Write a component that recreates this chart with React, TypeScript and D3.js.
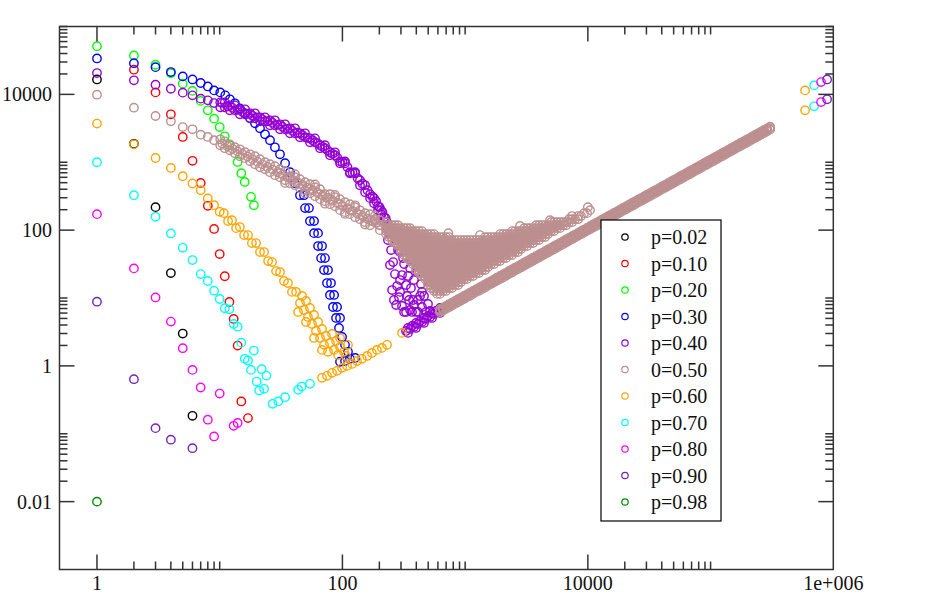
import { useEffect, useRef } from 'react';
import * as d3 from 'd3';

type Pt = [number, number];

// Series values (x, y) — log/log axes
const P02: Pt[] = [[1, 16600], [2, 1870], [3, 218], [4, 23.3], [5, 2.99], [6, 0.184]];

const P10: Pt[] = [
  [2, 23100], [3, 10700], [4, 5080], [5, 2360], [6, 1050], [7, 496], [8, 228], [9, 104],
  [10, 44.4], [11, 20.9], [12, 8.73], [13, 4.91], [14, 1.99], [15, 0.299], [17, 0.17],
];

const P20: Pt[] = [
  [1, 51300], [2, 37500], [3, 27300], [4, 20400], [5, 14400], [6, 11250], [7, 8020], [8, 5820],
  [9, 4390], [10, 3300], [11, 2410], [12, 1780], [14, 1010], [15, 689], [16, 513], [18, 309], [19, 233],
];

const P30: Pt[] = [
  [1, 33800], [2, 28800], [3, 25200], [4, 21300], [5, 18400], [6, 16600], [7, 14700], [8, 13100], [9, 11450],
  [10.1, 10700], [11.1, 9670], [12.1, 8450], [13.3, 7380], [14.6, 6220], [16.1, 5260], [17.7, 4440],
  [19.4, 3750], [21.3, 3160], [23.4, 2580], [25.7, 2110], [28.2, 1660], [31, 1310], [34.1, 967],
  [37.4, 713], [41.1, 491], [45.1, 327], [49.6, 211], [54.4, 136], [58.7, 90.3], [63.3, 58.2],
  [67, 38.7], [70.8, 25.8], [74.9, 16.6], [79.2, 11.1], [83.8, 7.37], [88.7, 5.08], [93.8, 3.62],
  [99.3, 2.67], [105, 2.04], [111, 1.61],
  [48.6, 327], [53.4, 211], [58.7, 136], [63.3, 90.3], [68.2, 58.2], [72.1, 38.7], [76.3, 25.8],
  [80.7, 16.6], [85.5, 11.1], [90.4, 7.37], [95.6, 5.08],
  [95.6, 1.15], [105, 1.18], [115, 1.27], [127, 1.31],
];

const P40: Pt[] = [
  [1, 20600], [2, 16100], [3, 13900], [4, 12100], [5, 10600], [6, 9670], [7, 8650], [8, 8160], [9, 7450],
  // band, three rows
  [10.1, 6440], [11, 7630], [12.1, 5820], [13.3, 6890], [14.6, 5080], [16.1, 6020], [17.7, 4440],
  [19.4, 5260], [21.3, 4010], [23.4, 4590], [25.7, 3500], [28.2, 4150], [31, 3060], [34.1, 3620],
  [37.4, 2670], [41.1, 3160], [45.1, 2330], [49.6, 2670], [54.4, 1970], [59.8, 2250], [65.7, 1610],
  [72.1, 1780], [79.2, 1270], [87, 1400], [95.6, 967], [105, 1030], [115, 689], [127, 713],
  [139, 459], [153, 459], [168, 296], [181, 296], [195, 197], [206, 197], [218, 136], [231, 131], [240, 93.5],
  [10.1, 7630], [11, 6440], [12.1, 6890], [13.3, 5820], [14.6, 6020], [16.1, 5080], [17.7, 5260],
  [19.4, 4440], [21.3, 4590], [23.4, 4010], [25.7, 4150], [28.2, 3500], [31, 3620], [34.1, 3060],
  [37.4, 3160], [41.1, 2670], [45.1, 2670], [49.6, 2330], [54.4, 2250], [59.8, 1970], [65.7, 1780],
  [72.1, 1610], [79.2, 1400], [87, 1270], [95.6, 1030], [105, 967], [115, 713], [127, 689],
  [139, 543], [153, 362], [168, 338], [181, 249], [195, 225], [206, 172], [218, 155], [231, 107],
  [10.5, 7500], [11.6, 6660], [12.7, 6330], [14, 5920], [15.3, 5530], [16.9, 5170], [18.5, 4830],
  [20.3, 4590], [22.3, 4290], [24.5, 4010], [26.9, 3810], [29.6, 3560], [32.5, 3330], [35.7, 3110],
  [39.2, 2900], [43.1, 2720], [47.3, 2500], [52, 2290], [57.1, 2110], [62.7, 1900], [68.9, 1690],
  [75.6, 1500], [83.1, 1330], [91.2, 1160], [100, 1000], [110, 844], [121, 701], [133, 582],
  [146, 483], [160, 387], [176, 311], [188, 267], [201, 218], [212, 184], [225, 150],
  // drop
  [235, 71.3], [249, 50.8], [259, 33.8], [268, 22.5], [279, 15], [289, 10.3], [306, 7.63], [318, 6.23],
  [274, 71.3], [295, 47.5], [318, 31.6], [343, 21.1], [362, 14], [376, 9.35], [356, 6.66], [398, 6.23],
  [330, 60.2], [369, 38.7], [406, 24.1], [437, 16.1], [462, 10.7], [445, 7.37], [498, 8.16], [518, 6.44],
  [295, 18.4], [336, 10.7], [413, 9.35],
  [244, 30.6], [254, 13.1], [263, 9.35], [284, 50.8], [306, 21.8], [330, 15.5], [349, 9.35], [383, 7.89],
  [429, 10.7], [480, 6.23], [312, 38.7], [356, 27.6], [383, 18.4], [421, 30.6], [445, 12.3], [274, 7.89],
  [295, 12.3], [330, 6.23], [369, 6.23], [413, 6.23],
  // lower line
  [330, 3.27], [356, 3.5], [383, 3.75], [413, 4.15], [445, 4.44], [480, 4.91], [518, 5.26],
  [558, 5.82], [601, 6.23], [648, 6.89],
  [342, 3.62], [369, 3.88], [398, 4.29], [429, 4.59], [462, 5.08], [498, 5.44], [537, 6.02], [579, 6.44],
  [624, 7.13], [342, 3.06], [398, 3.62], [462, 4.29], [537, 5.08], [624, 6.02],
];

const P50_HEAD: Pt[] = [
  [1, 9900], [2, 6370], [3, 4800], [4, 4010], [5, 3300], [6, 3060], [7, 2550], [8, 2360], [9, 2110],
  [10.1, 1780], [11, 1610], [12.1, 1840], [13.3, 1360], [14.6, 1550], [16.1, 1150], [17.7, 1310],
  [19.4, 935], [21.3, 1110], [23.4, 789], [25.7, 935], [28.2, 644], [31, 789], [34.1, 543],
  [37.4, 622], [41.1, 459], [45.1, 562], [49.6, 387], [54.4, 475], [59.8, 316], [65.7, 401],
  [72.1, 267], [79.2, 338], [87, 225], [95.6, 286], [105, 184], [115, 241], [127, 155],
  [139, 197], [153, 131], [168, 172], [184, 136], [202, 140],
  [10.1, 2180], [11, 2036], [12.1, 1502], [13.3, 1662], [14.6, 1225], [16.1, 1403], [17.7, 1034],
  [19.4, 1225], [21.3, 844], [23.4, 1000], [25.7, 713], [28.2, 873], [31, 601], [34.1, 738],
  [37.4, 491], [41.1, 601], [45.1, 415], [49.6, 508], [54.4, 350], [59.8, 429], [65.7, 286],
  [72.1, 338], [79.2, 241], [87, 306], [95.6, 197], [105, 258], [115, 172], [127, 218],
  [139, 145], [153, 178], [168, 118], [184, 145], [202, 100],
  [31, 689], [37.4, 582], [45.1, 483], [54.4, 405], [65.7, 338], [79.2, 286], [95.6, 241],
  [115, 200], [139, 168], [168, 140], [202, 118],
  [34.1, 496], [41.1, 668], [49.6, 349], [59.8, 470], [72.1, 245], [87, 330], [105, 173],
  [127, 232], [153, 121], [184, 163],
  [10.5, 1884], [11.6, 1725], [12.7, 1580], [14, 1446], [15.3, 1324], [16.9, 1213], [18.5, 1111],
  [20.3, 1017], [22.3, 931], [24.5, 853], [26.9, 784], [29.6, 718], [32.5, 657], [35.7, 601],
  [39.2, 551], [43.1, 505], [47.3, 462], [52, 423], [57.1, 387], [62.7, 355], [68.9, 325],
  [75.6, 298], [83.1, 272], [91.2, 249], [100, 228], [110, 209], [121, 192], [133, 175],
  [146, 161], [160, 147], [176, 135], [188, 127], [201, 119],
];

// the wide cloud of the p=0.50 set, one column of points per x
const P50_CLOUD_X = [
  227, 240, 254, 268, 284, 300, 318, 336, 356, 376, 398, 421, 445, 471, 498, 527, 558, 590, 624,
  661, 699, 739, 782, 828, 875, 926, 980, 1036, 1096, 1160, 1227, 1298, 1373, 1453, 1537, 1626,
  1720, 1820, 1925, 2037, 2154, 2280, 2411, 2551, 2698, 2855, 3020, 3196, 3380, 3576, 3783, 4003,
  4234, 4480, 4738, 5013, 5303, 5611, 5935, 6280, 6642, 7028, 7433, 7865, 8319, 8803, 9311, 9851, 10420,
];
const P50_CLOUD_Y: number[][] = [
  [131, 118, 107, 96.7, 87.4],
  [118, 107, 96.7, 87.4, 78.9],
  [118, 107, 96.7, 87.4, 78.9, 71.3],
  [118, 107, 96.7, 87.4, 78.9, 71.3, 64.4],
  [118, 107, 96.7, 87.4, 78.9, 71.3, 64.4, 58.2],
  [107, 96.7, 87.4, 78.9, 71.3, 64.4, 58.2, 52.6, 47.5],
  [107, 96.7, 87.4, 78.9, 71.3, 64.4, 58.2, 52.6, 47.5, 42.9],
  [107, 96.7, 87.4, 78.9, 71.3, 64.4, 58.2, 52.6, 47.5, 42.9, 38.7],
  [107, 96.7, 87.4, 78.9, 71.3, 64.4, 58.2, 52.6, 47.5, 42.9, 38.7, 35],
  [96.7, 87.4, 78.9, 71.3, 64.4, 58.2, 52.6, 47.5, 42.9, 38.7, 35, 31.6],
  [96.7, 87.4, 78.9, 71.3, 64.4, 58.2, 52.6, 47.5, 42.9, 38.7, 35, 31.6, 28.6, 25.8],
  [96.7, 87.4, 78.9, 71.3, 64.4, 58.2, 52.6, 47.5, 42.9, 38.7, 35, 31.6, 28.6, 25.8, 23.3],
  [96.7, 87.4, 78.9, 71.3, 64.4, 58.2, 52.6, 47.5, 42.9, 38.7, 35, 31.6, 28.6, 25.8, 23.3, 21.1],
  [87.4, 78.9, 71.3, 64.4, 58.2, 52.6, 47.5, 42.9, 38.7, 35, 31.6, 28.6, 25.8, 23.3, 21.1, 19],
  [87.4, 78.9, 71.3, 64.4, 58.2, 52.6, 47.5, 42.9, 38.7, 35, 31.6, 28.6, 25.8, 23.3, 21.1, 19, 17.2, 15.5],
  [87.4, 78.9, 71.3, 64.4, 58.2, 52.6, 47.5, 42.9, 38.7, 35, 31.6, 28.6, 25.8, 23.3, 21.1, 19, 17.2, 15.5, 14],
  [87.4, 78.9, 71.3, 64.4, 58.2, 52.6, 47.5, 42.9, 38.7, 35, 31.6, 28.6, 25.8, 23.3, 21.1, 19, 17.2, 15.5, 14, 12.7],
  [78.9, 71.3, 64.4, 58.2, 52.6, 47.5, 42.9, 38.7, 35, 31.6, 28.6, 25.8, 23.3, 21.1, 19, 17.2, 15.5, 14, 12.7, 11.5],
  [78.9, 71.3, 64.4, 58.2, 52.6, 47.5, 42.9, 38.7, 35, 31.6, 28.6, 25.8, 23.3, 21.1, 19, 17.2, 15.5, 14, 12.7, 11.5],
  [78.9, 71.3, 64.4, 58.2, 52.6, 47.5, 42.9, 38.7, 35, 31.6, 28.6, 25.8, 23.3, 21.1, 19, 17.2, 15.5, 14, 12.7],
  [78.9, 71.3, 64.4, 58.2, 52.6, 47.5, 42.9, 38.7, 35, 31.6, 28.6, 25.8, 23.3, 21.1, 19, 17.2, 15.5, 14, 12.7],
  [78.9, 71.3, 64.4, 58.2, 52.6, 47.5, 42.9, 38.7, 35, 31.6, 28.6, 25.8, 23.3, 21.1, 19, 17.2, 15.5, 14],
  [71.3, 64.4, 58.2, 52.6, 47.5, 42.9, 38.7, 35, 31.6, 28.6, 25.8, 23.3, 21.1, 19, 17.2, 15.5, 14],
  [71.3, 64.4, 58.2, 52.6, 47.5, 42.9, 38.7, 35, 31.6, 28.6, 25.8, 23.3, 21.1, 19, 17.2, 15.5],
  [71.3, 64.4, 58.2, 52.6, 47.5, 42.9, 38.7, 35, 31.6, 28.6, 25.8, 23.3, 21.1, 19, 17.2, 15.5],
  [71.3, 64.4, 58.2, 52.6, 47.5, 42.9, 38.7, 35, 31.6, 28.6, 25.8, 23.3, 21.1, 19, 17.2],
  [71.3, 64.4, 58.2, 52.6, 47.5, 42.9, 38.7, 35, 31.6, 28.6, 25.8, 23.3, 21.1, 19],
  [71.3, 64.4, 58.2, 52.6, 47.5, 42.9, 38.7, 35, 31.6, 28.6, 25.8, 23.3, 21.1, 19],
  [71.3, 64.4, 58.2, 52.6, 47.5, 42.9, 38.7, 35, 31.6, 28.6, 25.8, 23.3, 21.1],
  [71.3, 64.4, 58.2, 52.6, 47.5, 42.9, 38.7, 35, 31.6, 28.6, 25.8, 23.3, 21.1],
  [71.3, 64.4, 58.2, 52.6, 47.5, 42.9, 38.7, 35, 31.6, 28.6, 25.8, 23.3],
  [71.3, 64.4, 58.2, 52.6, 47.5, 42.9, 38.7, 35, 31.6, 28.6, 25.8, 23.3],
  [71.3, 64.4, 58.2, 52.6, 47.5, 42.9, 38.7, 35, 31.6, 28.6, 25.8],
  [78.9, 71.3, 64.4, 58.2, 52.6, 47.5, 42.9, 38.7, 35, 31.6, 28.6, 25.8],
  [78.9, 71.3, 64.4, 58.2, 52.6, 47.5, 42.9, 38.7, 35, 31.6, 28.6],
  [78.9, 71.3, 64.4, 58.2, 52.6, 47.5, 42.9, 38.7, 35, 31.6],
  [78.9, 71.3, 64.4, 58.2, 52.6, 47.5, 42.9, 38.7, 35, 31.6],
  [78.9, 71.3, 64.4, 58.2, 52.6, 47.5, 42.9, 38.7, 35],
  [87.4, 78.9, 71.3, 64.4, 58.2, 52.6, 47.5, 42.9, 38.7, 35],
  [87.4, 78.9, 71.3, 64.4, 58.2, 52.6, 47.5, 42.9, 38.7],
  [87.4, 78.9, 71.3, 64.4, 58.2, 52.6, 47.5, 42.9, 38.7],
  [87.4, 78.9, 71.3, 64.4, 58.2, 52.6, 47.5, 42.9],
  [96.7, 87.4, 78.9, 71.3, 64.4, 58.2, 52.6, 47.5, 42.9],
  [96.7, 87.4, 78.9, 71.3, 64.4, 58.2, 52.6, 47.5],
  [96.7, 87.4, 78.9, 71.3, 64.4, 58.2, 52.6, 47.5],
  [96.7, 87.4, 78.9, 71.3, 64.4, 58.2, 52.6],
  [107, 96.7, 87.4, 78.9, 71.3, 64.4, 58.2],
  [107, 96.7, 87.4, 78.9, 71.3, 64.4, 58.2],
  [107, 96.7, 87.4, 78.9, 71.3, 64.4],
  [107, 96.7, 87.4, 78.9, 71.3, 64.4],
  [118, 107, 96.7, 87.4, 78.9, 71.3],
  [118, 107, 96.7, 87.4, 78.9, 71.3],
  [118, 107, 96.7, 87.4, 78.9],
  [118, 107, 96.7, 87.4, 78.9],
  [118, 107, 96.7, 87.4],
  [131, 118, 107, 96.7],
  [131, 118, 107, 96.7],
  [131, 118, 107],
  [131, 118, 107],
  [131, 118],
  [131, 118],
  [145, 131],
  [145, 131],
  [145],
  [161, 145],
  [161],
  [178],
  [178],
  [197],
];
const P50_RINGS: Pt[] = [[730, 90.3], [1320, 84.4], [2800, 115], [4920, 140], [7430, 161], [10000, 218]];

// the straight band of the p=0.50 set: two sets of x, three rows each
const P50_LINE_XA = [
  624, 699, 782, 875, 980, 1096, 1227, 1373, 1537, 1720, 1925, 2154, 2411, 2698, 3020, 3380, 3783,
  4234, 4738, 5303, 5935, 6642, 7433, 8319, 9311, 10420, 11660, 13050, 14610, 16350, 18300, 20480,
  22920, 25650, 28710, 32130, 35960, 40240, 45040, 50410, 56420, 63140, 70670, 79090, 88510, 99060,
  110900, 124100, 138900, 155400, 174000, 194700, 217900, 243900, 272900, 305500,
];
const P50_LINE_A_HI = [
  6.83, 7.64, 8.56, 9.58, 10.7, 12, 13.4, 15, 16.8, 18.8, 21.1, 23.5, 26.4, 29.5, 33.1, 37, 41.4,
  46.3, 51.9, 58, 64.9, 72.7, 81.3, 91, 102, 114, 128, 143, 160, 179, 200, 224, 251, 281, 314, 351,
  393, 440, 493, 551, 617, 691, 773, 865, 968, 1084, 1213, 1358, 1519, 1700, 1904, 2129, 2384, 2668,
  2985, 3341,
];
const P50_LINE_A_MID = [
  6.5, 7.28, 8.15, 9.12, 10.2, 11.4, 12.8, 14.3, 16, 17.9, 20.1, 22.4, 25.1, 28.1, 31.5, 35.2, 39.4,
  44.1, 49.4, 55.2, 61.8, 69.2, 77.4, 86.7, 97, 108.5, 121.5, 135.9, 152.2, 170.3, 190.6, 213.3,
  238.8, 267.2, 299.1, 334.7, 374.6, 419.2, 469.2, 525.1, 587.7, 657.7, 736.1, 823.9, 922, 1032,
  1155, 1293, 1447, 1619, 1813, 2028, 2270, 2541, 2843, 3182,
];
const P50_LINE_A_LO = [
  6.18, 6.92, 7.74, 8.66, 9.69, 10.8, 12.2, 13.6, 15.2, 17, 19.1, 21.3, 23.8, 26.7, 29.9, 33.4,
  37.4, 41.9, 46.9, 52.4, 58.7, 65.7, 73.5, 82.4, 92.2, 103, 115, 129, 145, 162, 181, 203, 227, 254,
  284, 318, 356, 398, 446, 499, 558, 625, 699, 783, 876, 980, 1097, 1228, 1375, 1538, 1722, 1927,
  2157, 2414, 2701, 3023,
];
const P50_LINE_XB = [
  661, 739, 828, 926, 1036, 1160, 1298, 1453, 1626, 1820, 2037, 2280, 2551, 2855, 3196, 3576, 4003,
  4480, 5013, 5611, 6280, 7028, 7865, 8803, 9851, 11030, 12340, 13810, 15460, 17300, 19360, 21670,
  24250, 27140, 30370, 33990, 38040, 42570, 47650, 53330, 59690, 66800, 74760, 83670, 93650, 104800,
  117300, 131300, 146900, 164400, 184100, 206000, 230600, 258000, 288800,
];
const P50_LINE_B_HI = [
  7.22, 8.09, 9.05, 10.1, 11.3, 12.7, 14.2, 15.9, 17.7, 20, 22.3, 25, 27.9, 31.2, 35, 39.2, 43.8,
  49, 54.8, 61.3, 68.7, 76.9, 86, 96.3, 108, 121, 135, 151, 169, 189, 212, 237, 266, 297, 332, 372,
  416, 465, 521, 584, 653, 731, 818, 916, 1025, 1147, 1283, 1436, 1607, 1799, 2014, 2253, 2522,
  2822, 3158,
];
const P50_LINE_B_MID = [
  6.88, 7.7, 8.62, 9.65, 10.8, 12.1, 13.5, 15.1, 16.9, 19, 21.2, 23.8, 26.6, 29.7, 33.3, 37.3, 41.7,
  46.7, 52.2, 58.4, 65.4, 73.2, 81.9, 91.7, 103, 115, 129, 144, 161, 180, 202, 226, 253, 283, 316,
  354, 396, 443, 496, 556, 622, 696, 779, 872, 976, 1092, 1222, 1368, 1530, 1713, 1918, 2146, 2402,
  2688, 3008,
];
const P50_LINE_B_LO = [
  6.54, 7.32, 8.19, 9.17, 10.3, 11.5, 12.8, 14.3, 16.1, 18.1, 20.1, 22.6, 25.3, 28.2, 31.6, 35.4,
  39.6, 44.4, 49.6, 55.5, 62.1, 69.5, 77.8, 87.1, 97.9, 109, 123, 137, 153, 171, 192, 215, 240, 269,
  300, 336, 376, 421, 471, 528, 591, 661, 740, 828, 927, 1037, 1161, 1300, 1454, 1627, 1822, 2039,
  2282, 2554, 2858,
];

const P60: Pt[] = [
  [1, 3710], [2, 1840], [3, 1155], [4, 824], [5, 622], [6, 486], [7, 387], [8, 293], [9, 233], [10, 186],
  [10.8, 178], [11.7, 136], [12.6, 140], [13.6, 107], [14.6, 111], [15.8, 84.4], [17, 84.4], [18.3, 64.4],
  [19.8, 64.4], [21.3, 47.5], [23, 47.5], [24.8, 35], [26.7, 33.8], [28.8, 24.9], [31, 24.1],
  [33.4, 17.8], [36, 16.6], [38.8, 12.3],
  [41.9, 12.3], [46.9, 10.7], [45.1, 8.45], [50.5, 9.03], [48.6, 6.66], [54.4, 7.13], [52.4, 5.26],
  [58.7, 5.62], [56.5, 4.15], [63.3, 4.44], [60.9, 3.27], [68.2, 3.5], [65.7, 2.58], [73.5, 2.76],
  [70.8, 2.04], [79.2, 2.18], [76.3, 1.61], [85.4, 1.72], [88.7, 2.33], [95.6, 1.9], [103, 1.61],
  [111, 2.04], [92.1, 1.45], [107, 1.4], [82.3, 2.96], [95.6, 2.58], [43.5, 6.23], [50.5, 4.44],
  [58.7, 2.58], [68.2, 1.72],
  [68.2, 0.666], [74.9, 0.713], [82.3, 0.789], [90.4, 0.844], [99.3, 0.935], [109, 1], [120, 1.07],
  [131.5, 1.18], [144, 1.27], [159, 1.4], [174, 1.55], [191, 1.72], [210, 1.84], [231, 2.04], [306, 3.06],
  [589000, 11450], [589000, 5820],
];

const P70: Pt[] = [
  [1, 1000], [2, 327], [3, 157], [4, 89.4], [5, 54.9], [6, 36.2], [7, 22.5], [8, 17.8], [9, 12.8],
  [10, 9.67], [11, 7.06], [12, 6.82], [13, 4.15], [14, 3.78], [15, 2.2], [16, 1.27], [17, 1.2],
  [18, 0.873], [19, 1.68], [20, 0.588], [21, 0.433], [22, 0.894], [23, 0.459], [24, 0.72],
  [27, 0.276], [30, 0.299], [34.1, 0.346], [43.6, 0.444], [46.5, 0.496], [54.4, 0.544],
  [698000, 13560], [698000, 6660],
];

const P80: Pt[] = [
  [1, 172], [2, 27.3], [3, 10.2], [4, 4.49], [5, 1.82], [6, 0.873], [7, 0.48], [10, 0.391],
  [8, 0.161], [9, 0.0913], [13, 0.131], [14, 0.144],
  [795000, 15170], [795000, 7710],
];

const P90: Pt[] = [
  [1, 8.83], [2, 0.637], [3, 0.121], [4, 0.0817], [6, 0.0612],
  [890000, 16600], [890000, 8450],
];

const P98: Pt[] = [[1, 0.01]];

const columns = (xs: number[], ys: number[][]): Pt[] =>
  xs.flatMap((x, i) => ys[i].map((y) => [x, y] as Pt));
const zip = (xs: number[], ys: number[]): Pt[] => xs.map((x, i) => [x, ys[i]] as Pt);

const P50: Pt[] = [
  ...P50_HEAD,
  ...columns(P50_CLOUD_X, P50_CLOUD_Y),
  ...P50_RINGS,
  ...zip(P50_LINE_XA, P50_LINE_A_HI),
  ...zip(P50_LINE_XA, P50_LINE_A_MID),
  ...zip(P50_LINE_XA, P50_LINE_A_LO),
  ...zip(P50_LINE_XB, P50_LINE_B_HI),
  ...zip(P50_LINE_XB, P50_LINE_B_MID),
  ...zip(P50_LINE_XB, P50_LINE_B_LO),
];

const LABELS = ['p=0.02', 'p=0.10', 'p=0.20', 'p=0.30', 'p=0.40', '0=0.50', 'p=0.60', 'p=0.70', 'p=0.80', 'p=0.90', 'p=0.98'];
const COLORS = ['#000000', '#ff0000', '#00ff00', '#0000ff', '#9400d3', '#bc8f8f', '#ffa500', '#00ffff', '#ff00ff', '#7221bc', '#008b00'];
const SETS = [P02, P10, P20, P30, P40, P50, P60, P70, P80, P90, P98];

const X_MAJOR = [1, 100, 10000, 1e6];
const X_LABELS = ['1', '100', '10000', '1e+006'];
const Y_MAJOR = [0.01, 1, 100, 10000];
const Y_LABELS = ['0.01', '1', '100', '10000'];

const W = 942;
const H = 595;
const FONT = '"Liberation Serif", "Times New Roman", serif';

export default function App() {
  const svgRef = useRef<SVGSVGElement>(null);

  useEffect(() => {
    if (!svgRef.current) return;
    const svg = d3.select(svgRef.current);
    svg.selectAll('*').remove();

    const left = 59.5, right = 833.3, top = 26.5, bottom = 569.5;

    const x = d3.scaleLog().domain([0.495, 1e6]).range([left, right]);
    const y = d3.scaleLog().domain([1e-3, 1e5]).range([bottom, top]);

    // minor ticks: 2..10 times each major
    const minors = (majors: number[]) =>
      majors.flatMap((m) => d3.range(2, 11).map((k) => k * m));
    const xMinor = minors(X_MAJOR.slice(0, -1));
    const yMinor = minors(Y_MAJOR);

    // data
    SETS.forEach((pts, i) => {
      svg.append('g')
        .selectAll('circle')
        .data(pts)
        .join('circle')
        .attr('cx', (d) => x(d[0]))
        .attr('cy', (d) => y(d[1]))
        .attr('r', 4.2)
        .attr('fill', 'none')
        .attr('stroke', COLORS[i])
        .attr('stroke-width', 1.4);
    });

    // frame
    const axis = svg.append('g').attr('stroke', '#333').attr('stroke-width', 1.5);
    axis.append('rect')
      .attr('x', left).attr('y', top)
      .attr('width', right - left).attr('height', bottom - top)
      .attr('fill', 'none');

    const tickX = (vals: number[], len: number) => {
      vals.forEach((v) => {
        const px = x(v);
        axis.append('line').attr('x1', px).attr('x2', px).attr('y1', bottom).attr('y2', bottom - len);
        axis.append('line').attr('x1', px).attr('x2', px).attr('y1', top).attr('y2', top + len);
      });
    };
    const tickY = (vals: number[], len: number) => {
      vals.forEach((v) => {
        const py = y(v);
        axis.append('line').attr('y1', py).attr('y2', py).attr('x1', left).attr('x2', left + len);
        axis.append('line').attr('y1', py).attr('y2', py).attr('x1', right).attr('x2', right - len);
      });
    };
    tickX(X_MAJOR.slice(0, -1), 15);
    tickX(xMinor, 8);
    tickY(Y_MAJOR, 15);
    tickY(yMinor, 8);

    // tick labels
    svg.append('g')
      .selectAll('text')
      .data(X_MAJOR)
      .join('text')
      .attr('x', (d) => x(d))
      .attr('y', 590)
      .attr('text-anchor', 'middle')
      .attr('font-family', FONT)
      .attr('font-size', 20)
      .attr('fill', '#111')
      .text((_, i) => X_LABELS[i]);

    svg.append('g')
      .selectAll('text')
      .data(Y_MAJOR)
      .join('text')
      .attr('x', 52)
      .attr('y', (d) => y(d) + 7)
      .attr('text-anchor', 'end')
      .attr('font-family', FONT)
      .attr('font-size', 20)
      .attr('fill', '#111')
      .text((_, i) => Y_LABELS[i]);

    // legend
    const lg = svg.append('g');
    lg.append('rect')
      .attr('x', 601).attr('y', 220)
      .attr('width', 120).attr('height', 301)
      .attr('fill', 'white')
      .attr('stroke', '#000')
      .attr('stroke-width', 1.2);
    LABELS.forEach((label, i) => {
      const cy = 237 + i * 26.5;
      lg.append('circle')
        .attr('cx', 625).attr('cy', cy).attr('r', 3.2)
        .attr('fill', 'none').attr('stroke', COLORS[i]).attr('stroke-width', 1.2);
      lg.append('text')
        .attr('x', 651).attr('y', cy + 7)
        .attr('font-family', FONT).attr('font-size', 20).attr('fill', '#111')
        .text(label);
    });
  }, []);

  return (
    <svg
      ref={svgRef}
      width={W}
      height={H}
      viewBox={`0 0 ${W} ${H}`}
      style={{ position: 'absolute', left: 0, top: 0, background: 'white' }}
    />
  );
}
